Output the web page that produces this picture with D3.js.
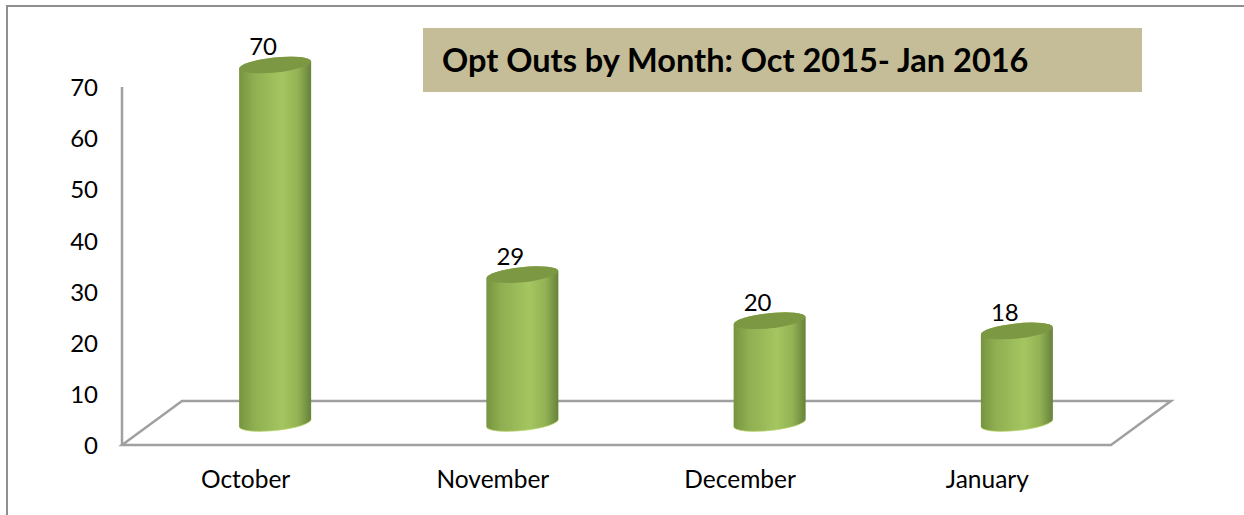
<!DOCTYPE html>
<html>
<head>
<meta charset="utf-8">
<script src="https://cdnjs.cloudflare.com/ajax/libs/d3/7.8.5/d3.min.js"></script>
<style>
	html, body { margin:0; padding:0; background:#fff; }
	svg { display:block; }
	text { font-family:Lato, "Open Sans", sans-serif; fill:#000; }
</style>
</head>
<body>
<div id="svg-container"></div>
<script>
var months = ["October","November","December","January"],
	optOuts = [70,29,20,18],
	y_ticks = [0,10,20,30,40,50,60,70],
	chart_title = "Opt Outs by Month: Oct 2015- Jan 2016";

var svg_width=1244,
	svg_height=515,
	x_left=122,
	x_right=1111,
	y_bottom=445,
	y_top=87,
	depth_x=60,
	depth_y=44,
	cyl_rx=36,
	cyl_ry=7.5,
	cyl_rot=-6,
	line_color="#a0a0a0";

var svg = d3.select("#svg-container").append("svg")
	.attr("width", svg_width)
	.attr("height", svg_height);

var x = d3.scaleBand().domain(months).range([x_left,x_right]);
var y = d3.scaleLinear().domain([0,70]).range([y_bottom,y_top]);

var grad = svg.append("defs").append("linearGradient").attr("id","cyl");
grad.selectAll("stop")
	.data([[0,"#76943f"],[0.2,"#8fae51"],[0.6,"#a4c660"],[0.82,"#93b254"],[1,"#66823a"]])
	.enter().append("stop")
	.attr("offset", function (d) { return d[0]; })
	.attr("stop-color", function (d) { return d[1]; });

// page frame, only top and left are visible
svg.append("path")
	.attr("d","M7,515V6H1244")
	.attr("fill","none")
	.attr("stroke","#8f8f8f")
	.attr("stroke-width",2);

// floor of the 3d chart
var floor = d3.path();
floor.moveTo(x_left,y_bottom);
floor.lineTo(x_right,y_bottom);
floor.lineTo(x_right+depth_x,y_bottom-depth_y);
floor.lineTo(x_left+depth_x,y_bottom-depth_y);
floor.closePath();
svg.append("path")
	.attr("d",floor.toString())
	.attr("fill","none")
	.attr("stroke",line_color)
	.attr("stroke-width",2.5);

svg.append("line")
	.attr("x1",x_left).attr("x2",x_left)
	.attr("y1",y(70)).attr("y2",y(0))
	.attr("stroke",line_color)
	.attr("stroke-width",2.5);

// axes
var yAxis = svg.append("g")
	.attr("transform","translate("+x_left+",1)")
	.call(d3.axisLeft(y).tickValues(y_ticks).tickSize(0).tickPadding(24));
yAxis.select(".domain").remove();
yAxis.selectAll("text").attr("font-size",24).style("font-family",null);

var xAxis = svg.append("g")
	.attr("transform","translate(0,"+y_bottom+")")
	.call(d3.axisBottom(x).tickSize(0).tickPadding(26));
xAxis.select(".domain").remove();
xAxis.selectAll("text").attr("font-size",24.5).style("font-family",null);

// cylinders
var tilt = cyl_rx*Math.tan(-cyl_rot*Math.PI/180);
var bars = svg.selectAll("g.bar")
	.data(months.map(function (m,i) { return {month:m, value:optOuts[i]}; }))
	.enter().append("g")
	.attr("class","bar")
	.attr("transform", function (d) {
		return "translate("+(x(d.month)+x.bandwidth()/2+depth_x/2-0.5)+" "+(-depth_y/2)+")";
	});

function arcTo(px,py,sweep) {
	return "A"+cyl_rx+" "+cyl_ry+" "+cyl_rot+" 0 "+sweep+" "+px+" "+py;
}

bars.append("path")
	.attr("d", function (d) {
		var t=y(d.value), b=y(0);
		return "M"+(-cyl_rx)+" "+(t+tilt)+arcTo(cyl_rx,t-tilt,1)+"V"+(b-tilt)+arcTo(-cyl_rx,b+tilt,1)+"Z";
	})
	.attr("fill","url(#cyl)");

// light rim along the bottom edge
bars.append("path")
	.attr("d", function (d) {
		var b=y(0);
		return "M"+cyl_rx+" "+(b-tilt)+arcTo(-cyl_rx,b+tilt,1);
	})
	.attr("fill","none")
	.attr("stroke","#bcd96f")
	.attr("stroke-opacity",0.7)
	.attr("stroke-width",1);

bars.append("ellipse")
	.attr("cy", function (d) { return y(d.value); })
	.attr("rx",cyl_rx)
	.attr("ry",cyl_ry)
	.attr("transform", function (d) { return "rotate("+cyl_rot+" 0 "+y(d.value)+")"; })
	.attr("fill","#7d9843");

bars.append("text")
	.attr("x",-12)
	.attr("y", function (d) { return y(d.value)-10; })
	.attr("text-anchor","middle")
	.attr("font-size",24)
	.text(function (d) { return d.value; });

// title box
svg.append("rect")
	.attr("x",423).attr("y",28)
	.attr("width",719).attr("height",64)
	.attr("fill","#c4bd97");
svg.append("text")
	.attr("x",442).attr("y",72)
	.attr("font-size",32.5)
	.attr("font-weight","bold")
	.text(chart_title);
</script>
</body>
</html>
